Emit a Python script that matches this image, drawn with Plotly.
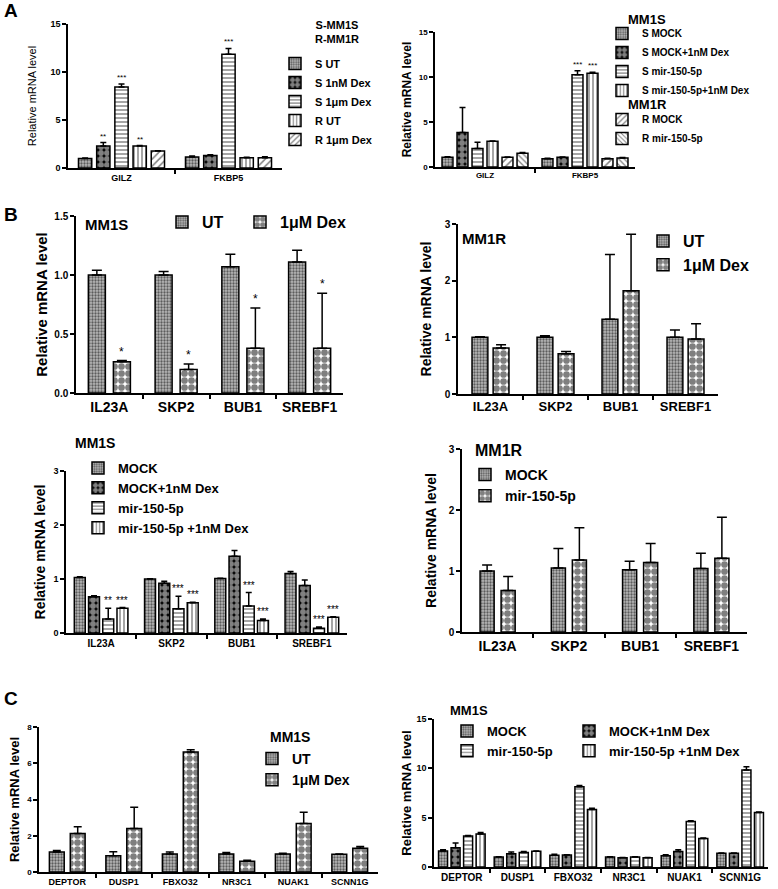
import plotly.graph_objects as go

W, H = 778, 889
FONT = "Liberation Sans, Arial, sans-serif"


def px(x):
    return x / W


def py(y):
    return 1 - y / H


# ---------------- DATA ----------------
# Panel A (left)
A1_genes = ["GILZ", "FKBP5"]
A1_names = ["S UT", "S 1nM Dex", "S 1μm Dex", "R UT", "R 1μm Dex"]
A1_vals = [[1.0, 1.15], [2.3, 1.3], [8.45, 11.85], [2.28, 1.06], [1.76, 1.08]]
A1_errs = [[0.04, 0.1], [0.35, 0.08], [0.3, 0.6], [0.06, 0.05], [0.04, 0.08]]
A1_stars = [["", ""], ["**", ""], ["***", "***"], ["**", ""], ["", ""]]

# Panel A (right)
A2_genes = ["GILZ", "FKBP5"]
A2_names = ["S MOCK", "S MOCK+1nM Dex", "S mir-150-5p", "S mir-150-5p+1nM Dex",
            "R MOCK", "R mir-150-5p"]
A2_vals = [[1.08, 0.92], [3.83, 1.07], [2.05, 10.25], [2.85, 10.42], [1.08, 0.93], [1.52, 1.0]]
A2_errs = [[0.05, 0.05], [2.77, 0.03], [0.7, 0.45], [0.03, 0.12], [0.03, 0.03], [0.08, 0.05]]
A2_stars = [["", ""], ["", ""], ["", "***"], ["", "***"], ["", ""], ["", ""]]

# Panel B (top-left, MM1S)
B1_genes = ["IL23A", "SKP2", "BUB1", "SREBF1"]
B1_names = ["UT", "1μM Dex"]
B1_vals = [[1.0, 1.0, 1.07, 1.11], [0.265, 0.2, 0.38, 0.38]]
B1_errs = [[0.04, 0.03, 0.105, 0.1], [0.01, 0.045, 0.34, 0.465]]
B1_stars = [["", "", "", ""], ["*", "*", "*", "*"]]

# Panel B (top-right, MM1R)
B2_genes = ["IL23A", "SKP2", "BUB1", "SREBF1"]
B2_names = ["UT", "1μM Dex"]
B2_vals = [[1.0, 1.0, 1.32, 1.0], [0.81, 0.71, 1.82, 0.97]]
B2_errs = [[0.01, 0.03, 1.14, 0.13], [0.06, 0.04, 1.0, 0.27]]

# Panel B (bottom-left, MM1S)
B3_genes = ["IL23A", "SKP2", "BUB1", "SREBF1"]
B3_names = ["MOCK", "MOCK+1nM Dex", "mir-150-5p", "mir-150-5p +1nM Dex"]
B3_vals = [[1.03, 1.0, 1.01, 1.1], [0.67, 0.92, 1.42, 0.88],
           [0.26, 0.45, 0.5, 0.09], [0.46, 0.56, 0.23, 0.29]]
B3_errs = [[0.01, 0.005, 0.005, 0.04], [0.02, 0.04, 0.11, 0.1],
           [0.2, 0.23, 0.25, 0.02], [0.01, 0.01, 0.03, 0.01]]
B3_stars = [["", "", "", ""], ["", "", "", ""],
            ["**", "***", "***", "***"], ["***", "***", "***", "***"]]

# Panel B (bottom-right, MM1R)
B4_genes = ["IL23A", "SKP2", "BUB1", "SREBF1"]
B4_names = ["MOCK", "mir-150-5p"]
B4_vals = [[1.0, 1.05, 1.02, 1.04], [0.68, 1.18, 1.14, 1.21]]
B4_errs = [[0.1, 0.32, 0.14, 0.25], [0.23, 0.53, 0.31, 0.67]]

# Panel C (left)
C1_genes = ["DEPTOR", "DUSP1", "FBXO32", "NR3C1", "NUAK1", "SCNN1G"]
C1_names = ["UT", "1μM Dex"]
C1_vals = [[1.11, 0.9, 1.0, 1.0, 1.0, 0.98], [2.13, 2.4, 6.62, 0.6, 2.68, 1.31]]
C1_errs = [[0.08, 0.22, 0.1, 0.07, 0.03, 0.01], [0.37, 1.17, 0.13, 0.05, 0.61, 0.1]]

# Panel C (right)
C2_genes = ["DEPTOR", "DUSP1", "FBXO32", "NR3C1", "NUAK1", "SCNN1G"]
C2_names = ["MOCK", "MOCK+1nM Dex", "mir-150-5p", "mir-150-5p +1nM Dex"]
C2_vals = [[1.63, 1.02, 1.19, 1.02, 1.15, 1.39], [1.96, 1.35, 1.22, 0.95, 1.56, 1.39],
           [3.15, 1.46, 8.13, 1.02, 4.6, 9.82], [3.35, 1.59, 5.82, 0.95, 2.88, 5.52]]
C2_errs = [[0.13, 0.03, 0.1, 0.02, 0.1, 0.02], [0.48, 0.17, 0.03, 0.02, 0.2, 0.02],
           [0.05, 0.1, 0.13, 0.02, 0.1, 0.34], [0.14, 0.03, 0.14, 0.02, 0.05, 0.05]]

# ---------------- STYLES ----------------
FINE = dict(shape=".", fgcolor="black", bgcolor="#b8b8b8", size=3, solidity=0.45)
CHECK = dict(shape=".", fgcolor="black", bgcolor="white", size=7, solidity=0.72)
RINGS = dict(shape=".", fgcolor="white", bgcolor="black", size=6, solidity=0.75)
HLINE = dict(shape="-", fgcolor="black", bgcolor="white", size=4, solidity=0.35)
VLINE = dict(shape="|", fgcolor="black", bgcolor="white", size=4, solidity=0.35)
DIAG = dict(shape="/", fgcolor="black", bgcolor="white", size=5, solidity=0.3)
DIAG2 = dict(shape="\\", fgcolor="black", bgcolor="white", size=4, solidity=0.3)

fig = go.Figure()
layout = {}
annotations = []


def add_panel(n, genes, names, vals, errs, stars, pats, box, ymax, yticks, legends,
              bargap, bgg, tickfs, xfs, titlefs, standoff, starfs=9,
              titleweight="bold", fmt=None, capw=3):
    xa = "x" if n == 1 else f"x{n}"
    ya = "y" if n == 1 else f"y{n}"
    ns = len(names)
    group = 1 - bargap
    slot = group / ns
    width = slot * (1 - bgg)
    idx = list(range(len(genes)))
    for k in range(ns):
        off = -group / 2 + k * slot + slot * bgg / 2
        fig.add_trace(go.Bar(
            x=idx, y=vals[k], name=names[k], width=width, offset=off,
            xaxis=xa, yaxis=ya, legend=legends[k],
            marker=dict(color="white", line=dict(color="black", width=1.5), pattern=pats[k]),
            error_y=dict(type="data", symmetric=False, array=errs[k],
                         arrayminus=[0] * len(genes), color="black", thickness=1.5, width=capw),
            hoverinfo="skip",
        ))
        if stars:
            for j, s in enumerate(stars[k]):
                if s:
                    annotations.append(dict(
                        x=j + off + width / 2, y=vals[k][j] + errs[k][j], xref=xa, yref=ya,
                        text=s, showarrow=False, yanchor="bottom", xanchor="center",
                        font=dict(size=starfs, family=FONT, color="black")))
    x0, x1, yt, yb = box
    axfont = dict(family=FONT, color="black", weight="bold")
    layout["xaxis" if n == 1 else f"xaxis{n}"] = dict(
        domain=[px(x0), px(x1)], anchor=ya, range=[-0.5, len(genes) - 0.5],
        tickvals=idx, ticktext=genes, ticks="", showline=True, linecolor="black",
        linewidth=1.5, showgrid=False, zeroline=False, automargin=False,
        tickfont=dict(size=xfs, **axfont),
        minor=dict(tickvals=[j + 0.5 for j in idx[:-1]], ticks="outside", ticklen=4,
                   tickwidth=1.5, tickcolor="black", showgrid=False),
    )
    layout["yaxis" if n == 1 else f"yaxis{n}"] = dict(
        domain=[py(yb), py(yt)], anchor=xa, range=[0, ymax], tickvals=yticks,
        tickformat=fmt, ticks="outside", ticklen=4, tickwidth=1.5, tickcolor="black",
        showline=True, linecolor="black", linewidth=1.5, showgrid=False, zeroline=False,
        automargin=False, tickfont=dict(size=tickfs, **axfont),
        title=dict(text="Relative mRNA level", standoff=standoff,
                   font=dict(size=titlefs, family=FONT, color="black", weight=titleweight)),
    )


add_panel(1, A1_genes, A1_names, A1_vals, A1_errs, A1_stars,
          [FINE, RINGS, HLINE, VLINE, DIAG], (68, 282, 24, 168), 15, [0, 5, 10, 15],
          ["legend"] * 5, 0.15, 0.27, 9, 9, 11, 12, starfs=8, titleweight="normal", capw=3)
add_panel(2, A2_genes, A2_names, A2_vals, A2_errs, A2_stars,
          [FINE, RINGS, HLINE, VLINE, DIAG, DIAG2], (435, 635, 32, 167), 15, [0, 5, 10, 15],
          ["legend2"] * 4 + ["legend3"] * 2, 0.1, 0.27, 8, 8, 12, 5, starfs=8, capw=3)
add_panel(3, B1_genes, B1_names, B1_vals, B1_errs, B1_stars,
          [FINE, CHECK], (76, 343, 216, 393), 1.5, [0, 0.5, 1.0, 1.5],
          ["legend4", "legend11"], 0.25, 0.32, 10, 14, 15, 3, starfs=12, fmt=".1f", capw=5)
add_panel(4, B2_genes, B2_names, B2_vals, B2_errs, None,
          [FINE, CHECK], (458, 718, 224, 394), 3, [0, 1, 2, 3],
          ["legend5"] * 2, 0.35, 0.25, 10, 13, 14, 10, capw=5)
add_panel(5, B3_genes, B3_names, B3_vals, B3_errs, B3_stars,
          [FINE, RINGS, HLINE, VLINE], (66, 347, 471, 633), 3, [0, 1, 2, 3],
          ["legend6"] * 4, 0.19, 0.23, 9, 10, 14, 5, starfs=10, capw=3)
add_panel(6, B4_genes, B4_names, B4_vals, B4_errs, None,
          [FINE, CHECK], (462, 747, 449, 632), 3, [0, 1, 2, 3],
          ["legend7"] * 2, 0.41, 0.33, 10, 14, 14, 9, capw=5)
add_panel(7, C1_genes, C1_names, C1_vals, C1_errs, None,
          [FINE, CHECK], (39, 378, 727, 872), 8, [0, 2, 4, 6, 8],
          ["legend8"] * 2, 0.26, 0.29, 8, 9, 13, 5, capw=4)
add_panel(8, C2_genes, C2_names, C2_vals, C2_errs, None,
          [FINE, RINGS, HLINE, VLINE], (434, 768, 719, 867), 15, [0, 5, 10, 15],
          ["legend9", "legend10", "legend9", "legend10"], 0.1, 0.28, 9, 10, 13, 2, capw=3)


def leg(x, y, size, **kw):
    d = dict(x=px(x), y=py(y), xanchor="left", yanchor="top", bgcolor="rgba(0,0,0,0)",
             font=dict(size=size, family=FONT, color="black", weight="bold"))
    d.update(kw)
    return d


layout["legend"] = leg(275, 49, 11)
layout["legend2"] = leg(602, 19, 10)
layout["legend3"] = leg(602, 105, 10)
layout["legend4"] = leg(162, 205, 16)
layout["legend11"] = leg(240, 205, 16)
layout["legend5"] = leg(643, 224, 16)
layout["legend6"] = leg(78, 453, 13)
layout["legend7"] = leg(465, 459, 14)
layout["legend8"] = leg(252, 743, 14)
layout["legend9"] = leg(447, 716, 13)
layout["legend10"] = leg(569, 716, 13)


def note(text, x, y, size, xanchor="left", yanchor="middle", weight="bold", align="left"):
    annotations.append(dict(text=text, x=px(x), y=py(y), xref="paper", yref="paper",
                            showarrow=False, xanchor=xanchor, yanchor=yanchor, align=align,
                            font=dict(size=size, family=FONT, color="black", weight=weight)))


note("A", 2, 11, 19)
note("B", 2, 214, 19)
note("C", 2, 698, 19)
note("S-MM1S<br>R-MM1R", 337, 32, 11, xanchor="center", align="center")
note("MM1S", 626, 19, 13)
note("MM1R", 626, 104, 13)
note("MM1S", 83, 224, 15)
note("MM1R", 460, 239, 15)
note("MM1S", 73, 443, 14)
note("MM1R", 473, 450, 16)
note("MM1S", 268, 737, 14)
note("MM1S", 448, 710, 13)

layout.update(dict(
    width=W, height=H, margin=dict(l=0, r=0, t=0, b=0, autoexpand=False),
    paper_bgcolor="white", plot_bgcolor="white", showlegend=True,
    font=dict(family=FONT, color="black"), annotations=annotations,
))
fig.update_layout(**layout)
fig.write_html("out.html", config={"displayModeBar": False},
               post_script="document.body.style.margin='0';document.body.style.overflow='hidden';")
